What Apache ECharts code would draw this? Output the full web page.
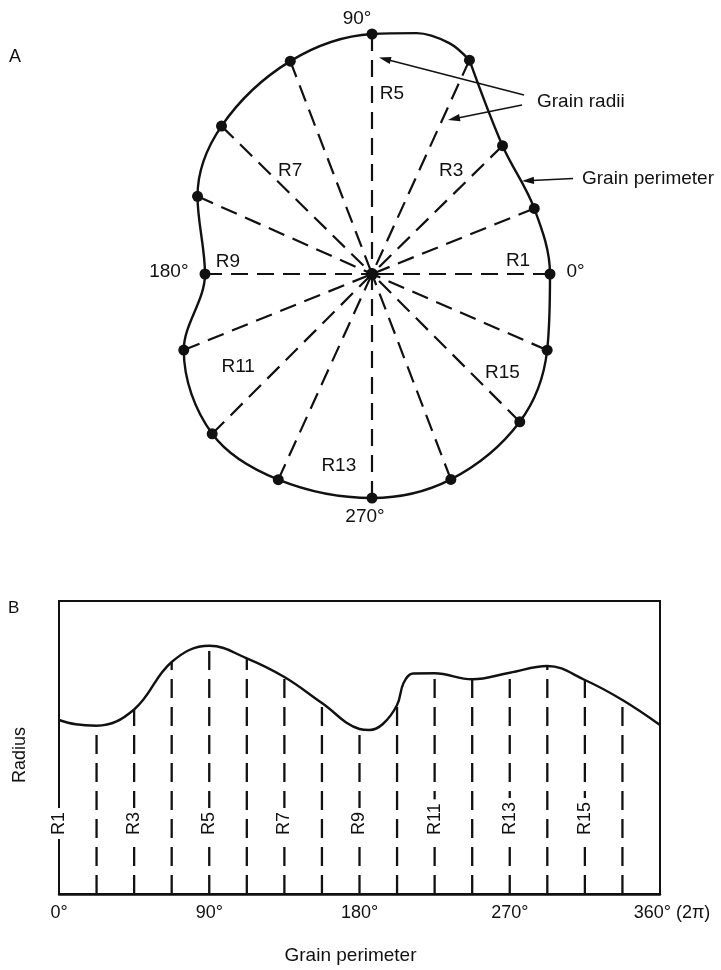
<!DOCTYPE html>
<html><head><meta charset="utf-8">
<script src="https://cdn.jsdelivr.net/npm/echarts@6/dist/echarts.min.js"></script>
<style>html,body{margin:0;padding:0;background:#fff}#c{width:721px;height:970px}</style>
</head><body><div id="c"></div>
<script>
// ---------- DATA ----------
// Panel A: the 16 grain radii (perimeter dots), angle in degrees, length in radius units
const radiusNames   = ['R1','R2','R3','R4','R5','R6','R7','R8','R9','R10','R11','R12','R13','R14','R15','R16'];
const radiusAngles  = [0, 22, 44.5, 65.5, 90, 111, 135.5, 156, 180, 202, 225, 245.5, 270, 291, 315, 336.5];
const radiusLengths = [178, 175, 183, 235, 240, 228, 211, 191, 167, 203, 226, 226, 224, 220, 209, 191];
// extra perimeter points read between dots (top-right bulge)
const perimeterExtraAngles = [71.5, 79.5];
const perimeterExtraRadii  = [243.5, 245];
const degreeTicksA  = [0, 90, 180, 270];
const degreeLabelsA = ['0°', '90°', '180°', '270°'];

// Panel B: radius profile along the grain perimeter
const profileAngles = [0, 10, 22.5, 45, 67.5, 90, 112.5, 135, 157.5, 180, 186, 194, 202.5, 206.4, 212, 225, 247.5, 270, 292.5, 315, 337.5, 360];
const profileRadius = [174, 169.7, 168.3, 184.5, 232, 248.3, 235.7, 217, 191, 165, 164, 170, 189, 211, 220.5, 220.7, 214.7, 221.3, 228, 214, 194, 169];
const xTicks      = [0, 90, 180, 270, 360];
const xTickLabels = ['0°', '90°', '180°', '270°', '360° (2π)'];

// ---------- LAYOUT / STYLE ----------
const FONT = '"Liberation Sans", Arial, Helvetica, sans-serif';
const INK = '#111';
const POLAR_CENTER = [372, 274];
const POLAR_RADIUS = 250; // px for radiusAxis max 250
const R_LABEL_POLAR = { R1:[146.6,5.1], R3:[130,52.5], R5:[181,83.7], R7:[131.6,128.5], R9:[144.5,175.2], R11:[163,214.8], R13:[195,260.2], R15:[163.8,322.8] };
const DEG_LABEL_STYLE = [
  {position:'right', distance:11, offset:[0,-2]},
  {position:'top', distance:0, offset:[-15,0]},
  {position:'left', distance:11, offset:[0,-2]},
  {position:'bottom', distance:4, offset:[-7,0]}
];

const series = [];

// Panel A radii (dashed, from dot to centre)
radiusAngles.forEach((a, i) => {
  series.push({
    type:'line', coordinateSystem:'polar', polarIndex:0, symbol:'none', silent:true,
    data:[[radiusLengths[i], a], [0, a]],
    lineStyle:{color:INK, width:2.2, type:[17, 9]}, z:2
  });
});

// Panel A perimeter (closed smooth curve through the dots), starting at R4
const pts = radiusAngles.map((a, i) => ({a, r: radiusLengths[i]}))
  .concat(perimeterExtraAngles.map((a, i) => ({a, r: perimeterExtraRadii[i]})))
  .sort((p, q) => p.a - q.a);
const startIdx = pts.findIndex(p => p.a === radiusAngles[3]);
const ring = pts.slice(startIdx).concat(pts.slice(0, startIdx + 1));
series.push({
  type:'line', coordinateSystem:'polar', polarIndex:0, symbol:'none', smooth:0.35, silent:true,
  data: ring.map(p => [p.r, p.a]),
  lineStyle:{color:INK, width:2.4}, z:3
});

// Panel A dots + degree labels
series.push({
  type:'scatter', coordinateSystem:'polar', polarIndex:0, symbolSize:11, silent:true,
  itemStyle:{color:INK, opacity:1}, z:4,
  data: radiusAngles.map((a, i) => {
    const item = {value:[radiusLengths[i], a]};
    const t = degreeTicksA.indexOf(a);
    if (t >= 0) {
      item.label = Object.assign({show:true, formatter: degreeLabelsA[t], fontSize:19, fontFamily:FONT, color:INK}, DEG_LABEL_STYLE[t]);
    }
    return item;
  })
});
// centre dot
series.push({
  type:'scatter', coordinateSystem:'polar', polarIndex:0, symbolSize:12, silent:true,
  itemStyle:{color:INK, opacity:1}, z:4, data:[[0, 0]]
});
// Panel A radius labels
series.push({
  type:'scatter', coordinateSystem:'polar', polarIndex:0, symbolSize:0, silent:true, z:5,
  itemStyle:{opacity:1},
  data: radiusNames.filter((n, i) => i % 2 === 0).map(n => ({name:n, value:R_LABEL_POLAR[n]})),
  label:{show:true, position:'inside', formatter:'{b}', fontSize:19, fontFamily:FONT, color:INK}
});

// Panel B dashed verticals (drawn from bottom up)
for (let k = 1; k < 16; k++) {
  const a = k * 22.5;
  const h = profileRadius[profileAngles.indexOf(a)];
  series.push({
    type:'line', xAxisIndex:0, yAxisIndex:0, symbol:'none', silent:true,
    data:[[a, 0], [a, h]],
    lineStyle:{color:INK, width:2.3, type:[19, 9]}, z:2
  });
}
// Panel B profile curve
series.push({
  type:'line', xAxisIndex:0, yAxisIndex:0, symbol:'none', smooth:0.4, silent:true,
  data: profileAngles.map((a, i) => [a, profileRadius[i]]),
  lineStyle:{color:INK, width:2.4}, z:3
});
// Panel B R labels (rotated)
series.push({
  type:'scatter', xAxisIndex:0, yAxisIndex:0, symbolSize:0, silent:true, z:6,
  itemStyle:{opacity:1},
  data: radiusNames.filter((n, i) => i % 2 === 0).map((n, j) => ({name:n, value:[j * 45, 55]})),
  label:{show:true, position:[0,0], rotate:90, align:'left', verticalAlign:'middle', formatter:'{b}',
    fontSize:18, fontFamily:FONT, color:INK, backgroundColor:'#fff', padding:[2,4]}
});

// Arrows and annotation texts
function arrow(x1, y1, x2, y2) {
  const dx = x2 - x1, dy = y2 - y1, L = Math.hypot(dx, dy), ux = dx / L, uy = dy / L;
  const hl = 12, hw = 3.6, bx = x2 - ux * hl, by = y2 - uy * hl;
  return [
    {type:'line', silent:true, z:10, shape:{x1, y1, x2:bx + ux * 2, y2:by + uy * 2}, style:{stroke:INK, lineWidth:1.4}},
    {type:'polygon', silent:true, z:10, shape:{points:[[x2, y2], [bx - uy * hw, by + ux * hw], [bx + uy * hw, by - ux * hw]]}, style:{fill:INK}}
  ];
}
function txt(x, y, text, size, align) {
  return {type:'text', silent:true, z:10, x, y, style:{text, fill:INK, font: size + 'px ' + FONT, textAlign: align || 'left', textVerticalAlign:'middle'}};
}
const graphics = [].concat(
  arrow(524, 95, 379, 57.5),
  arrow(522, 105, 448, 120),
  arrow(573, 178.5, 522, 181),
  [txt(537, 102, 'Grain radii', 19), txt(582, 179, 'Grain perimeter', 19), txt(9, 57, 'A', 18), txt(8, 608, 'B', 17)]
);

const option = {
  animation:false,
  backgroundColor:'#fff',
  textStyle:{fontFamily:FONT},
  polar:{center:POLAR_CENTER, radius:POLAR_RADIUS},
  angleAxis:{type:'value', min:0, max:360, startAngle:0, clockwise:false, show:false},
  radiusAxis:{type:'value', min:0, max:250, show:false},
  grid:{left:59, top:601, width:601, height:293, show:true, borderColor:INK, borderWidth:2, backgroundColor:'transparent', outerBoundsMode:'none', containLabel:false},
  xAxis:{
    type:'value', min:0, max:360, interval:90,
    axisLine:{show:true, lineStyle:{color:INK, width:2.5}},
    axisTick:{show:false}, splitLine:{show:false},
    axisLabel:{
      showMinLabel:true, showMaxLabel:true, hideOverlap:false, margin:10,
      fontSize:18, fontFamily:FONT, color:INK,
      formatter: v => { const i = xTicks.indexOf(v); if (i < 0) return ''; return i === xTicks.length - 1 ? '{last|' + xTickLabels[i] + '}' : xTickLabels[i]; },
      rich:{last:{padding:[0,0,0,24], fontSize:18, fontFamily:FONT, color:INK}}
    },
    name:'Grain perimeter', nameLocation:'middle', nameGap:52,
    nameTextStyle:{fontSize:19, fontFamily:FONT, color:INK, padding:[0,18,0,0]}
  },
  yAxis:{
    type:'value', min:0, max:293,
    axisLine:{show:false}, axisTick:{show:false}, splitLine:{show:false}, axisLabel:{show:false},
    name:'Radius', nameLocation:'middle', nameGap:30, nameRotate:90,
    nameTextStyle:{fontSize:18, fontFamily:FONT, color:INK, padding:[0,15,0,0]}
  },
  graphic: graphics,
  series
};
const chart = echarts.init(document.getElementById('c'));
chart.setOption(option);
</script>
</body></html>
